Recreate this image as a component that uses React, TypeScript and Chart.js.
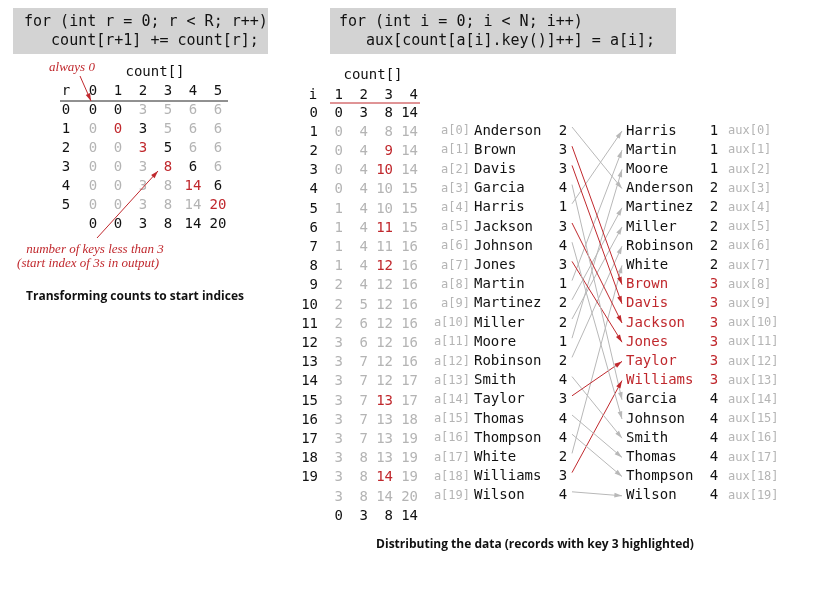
import React, { useEffect, useRef } from 'react';
import { Chart, registerables } from 'chart.js';

Chart.register(...registerables);

const names = ['Anderson', 'Brown', 'Davis', 'Garcia', 'Harris', 'Jackson', 'Johnson', 'Jones', 'Martin', 'Martinez',
  'Miller', 'Moore', 'Robinson', 'Smith', 'Taylor', 'Thomas', 'Thompson', 'White', 'Williams', 'Wilson'];
const keys = [2, 3, 3, 4, 1, 3, 4, 3, 1, 2, 2, 1, 2, 4, 3, 4, 4, 2, 3, 4];
const R = 5;
const HL = 3;
const leftCode = ['for (int r = 0; r < R; r++)', '   count[r+1] += count[r];'];
const rightCode = ['for (int i = 0; i < N; i++)', '   aux[count[a[i].key()]++] = a[i];'];

const RED = '#c0282d';
const GRAY = '#b4b4b4';
const MONO = '"DejaVu Sans Mono", monospace';

// frequency counts -> count[] before accumulation
const freq: number[] = new Array(R + 1).fill(0);
keys.forEach((k) => { freq[k + 1]++; });
// accumulation rows for the left table
const accRows: number[][] = [];
{
  const c = [...freq];
  for (let r = 0; r < R; r++) { c[r + 1] += c[r]; accRows.push([...c]); }
}
const start: number[] = [...freq];
for (let r = 0; r < R; r++) start[r + 1] += start[r];
// distribution rows for the right table
const distRows: number[][] = [];
const outPos: number[] = [];
{
  const c = [...start];
  distRows.push(c.slice(1, 5));
  keys.forEach((k) => { outPos.push(c[k]); c[k]++; distRows.push(c.slice(1, 5)); });
}
const sorted: number[] = new Array(keys.length);
outPos.forEach((p, i) => { sorted[p] = i; });

const rowY = (k: number) => 131 + 19.2 * k;

const textPlugin = {
  id: 'texts',
  afterDatasetsDraw(chart: any) {
    const { ctx, scales } = chart;
    const X = (v: number) => scales.x.getPixelForValue(v);
    const Y = (v: number) => scales.y.getPixelForValue(v);
    const t = (s: string, x: number, y: number, color = '#111', font = `14px ${MONO}`, align: CanvasTextAlign = 'center') => {
      ctx.fillStyle = color; ctx.font = font; ctx.textAlign = align; ctx.textBaseline = 'middle';
      ctx.fillText(s, X(x), Y(y));
    };
    const line = (x1: number, y1: number, x2: number, y2: number, color: string, arrow = false) => {
      ctx.strokeStyle = color; ctx.fillStyle = color; ctx.lineWidth = 1;
      ctx.beginPath(); ctx.moveTo(X(x1), Y(y1)); ctx.lineTo(X(x2), Y(y2)); ctx.stroke();
      if (arrow) {
        const a = Math.atan2(Y(y2) - Y(y1), X(x2) - X(x1));
        ctx.beginPath(); ctx.moveTo(X(x2), Y(y2));
        ctx.lineTo(X(x2) - 8 * Math.cos(a - 0.3), Y(y2) - 8 * Math.sin(a - 0.3));
        ctx.lineTo(X(x2) - 8 * Math.cos(a + 0.3), Y(y2) - 8 * Math.sin(a + 0.3));
        ctx.closePath(); ctx.fill();
      }
    };
    ctx.save();
    // code boxes
    ctx.fillStyle = '#d3d3d3';
    ctx.fillRect(X(13), Y(8), X(268) - X(13), Y(54) - Y(8));
    ctx.fillRect(X(330), Y(8), X(676) - X(330), Y(54) - Y(8));
    leftCode.forEach((s, i) => t(s, 24, 22 + 19 * i, '#111', `15px ${MONO}`, 'left'));
    rightCode.forEach((s, i) => t(s, 339, 22 + 19 * i, '#111', `15px ${MONO}`, 'left'));

    // left table
    const lx = (c: number) => 93 + 25 * c;
    t('always 0', 72, 68, RED, 'italic 13px "Liberation Serif", serif');
    t('count[]', 155, 72);
    t('r', 66, 91);
    for (let c = 0; c <= R; c++) t(String(c), lx(c), 91);
    line(60, 101, 228, 101, '#222');
    for (let r = 0; r <= R; r++) {
      const y = 110 + 19 * r;
      t(String(r), 66, y);
      const vals = r === 0 ? freq : accRows[r - 1];
      vals.forEach((v, c) => {
        let col = GRAY;
        if (r === 0) col = c <= 1 ? '#111' : GRAY;
        else if (c === r) col = RED;
        else if (c === r + 1) col = '#111';
        t(String(v), lx(c), y, col);
      });
    }
    start.forEach((v, c) => t(String(v), lx(c), 224));
    line(80, 76, 91, 101, RED, true);
    line(97, 238, 158, 171, RED, true);
    t('number of keys less than 3', 95, 250, RED, 'italic 13px "Liberation Serif", serif');
    t('(start index of 3s in output)', 88, 264, RED, 'italic 13px "Liberation Serif", serif');
    t('Transforming counts to start indices', 135, 297, '#111', 'bold 12px "Open Sans", sans-serif');

    // right count table
    const cx = (c: number) => 343 + 25 * c;
    t('count[]', 373, 75);
    t('i', 313, 95);
    for (let c = 0; c < 4; c++) t(String(c + 1), cx(c), 95, '#111', `14px ${MONO}`, 'right');
    line(330, 103, 420, 103, RED);
    distRows.forEach((row, k) => {
      const y = rowY(k) - 18;
      if (k < keys.length) t(String(k), 318, y, '#111', `14px ${MONO}`, 'right');
      row.forEach((v, c) => {
        let col = k === 0 ? '#111' : GRAY;
        if (k > 0 && keys[k - 1] === HL && c === HL - 1) col = RED;
        t(String(v), cx(c), y, col, `14px ${MONO}`, 'right');
      });
    });
    start.slice(1, 5).forEach((v, c) => t(String(v), cx(c), rowY(keys.length) + 1, '#111', `14px ${MONO}`, 'right'));

    // records
    names.forEach((n, i) => {
      const y = rowY(i);
      t(`a[${i}]`, 470, y, GRAY, `12px ${MONO}`, 'right');
      t(n, 474, y, '#111', `14px ${MONO}`, 'left');
      t(String(keys[i]), 563, y);
    });
    sorted.forEach((idx, p) => {
      const y = rowY(p);
      const col = keys[idx] === HL ? RED : '#111';
      t(names[idx], 626, y, col, `14px ${MONO}`, 'left');
      t(String(keys[idx]), 714, y, col);
      t(`aux[${p}]`, 728, y, GRAY, `12px ${MONO}`, 'left');
    });
    t('Distributing the data (records with key 3 highlighted)', 535, 545, '#111', 'bold 12px "Open Sans", sans-serif');

    // arrowheads on the link datasets
    chart.data.datasets.forEach((ds: any, i: number) => {
      const meta = chart.getDatasetMeta(i);
      const [p1, p2] = meta.data;
      const a = Math.atan2(p2.y - p1.y, p2.x - p1.x);
      ctx.fillStyle = ds.borderColor;
      ctx.beginPath(); ctx.moveTo(p2.x, p2.y);
      ctx.lineTo(p2.x - 8 * Math.cos(a - 0.3), p2.y - 8 * Math.sin(a - 0.3));
      ctx.lineTo(p2.x - 8 * Math.cos(a + 0.3), p2.y - 8 * Math.sin(a + 0.3));
      ctx.closePath(); ctx.fill();
    });
    ctx.restore();
  },
};

export default function App() {
  const ref = useRef<HTMLCanvasElement>(null);
  useEffect(() => {
    document.body.style.margin = '0';
    if (!ref.current) return;
    const datasets = keys.map((k, i) => ({
      type: 'line' as const,
      data: [{ x: 572, y: rowY(i) - 4 }, { x: 622, y: rowY(outPos[i]) }],
      borderColor: k === HL ? RED : '#b8b8b8',
      borderWidth: 1,
      pointRadius: 0,
      fill: false,
    }));
    const chart = new Chart(ref.current, {
      type: 'scatter',
      data: { datasets },
      options: {
        animation: false,
        responsive: true,
        maintainAspectRatio: false,
        layout: { padding: 0 },
        plugins: { legend: { display: false }, tooltip: { enabled: false } },
        scales: {
          x: { type: 'linear', min: 0, max: 820, display: false },
          y: { type: 'linear', min: 0, max: 605, reverse: true, display: false },
        },
      },
      plugins: [textPlugin],
    });
    return () => chart.destroy();
  }, []);
  return (
    <div style={{ width: 820, height: 605, position: 'relative' }}>
      <canvas ref={ref} />
    </div>
  );
}
